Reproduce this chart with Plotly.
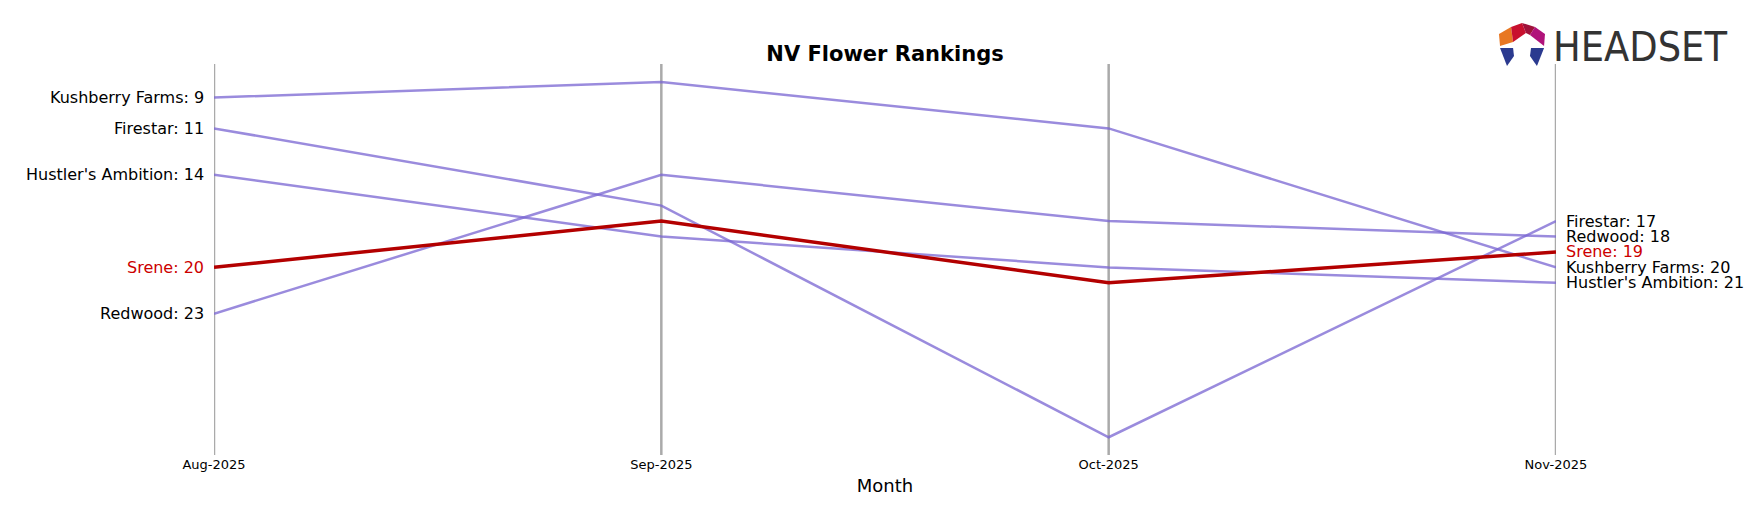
import plotly.graph_objects as go

months = ["Aug-2025", "Sep-2025", "Oct-2025", "Nov-2025"]
brands = ["Kushberry Farms", "Firestar", "Hustler's Ambition", "Redwood", "Srene"]
ranks = {
    "Kushberry Farms": [9, 8, 11, 20],
    "Firestar": [11, 16, 31, 17],
    "Hustler's Ambition": [14, 18, 20, 21],
    "Redwood": [23, 14, 17, 18],
    "Srene": [20, 17, 21, 19],
}
highlight = "Srene"

W, H = 1754, 507
L, R, T, B = 206, 206, 56, 60

fig = go.Figure()
for m in months:
    fig.add_vline(x=m, line=dict(color="#aaaaaa", width=2.5), layer="below")

for b in brands:
    hl = b == highlight
    fig.add_trace(go.Scatter(
        x=months, y=ranks[b], mode="lines", name=b,
        line=dict(color="#b30000" if hl else "rgba(120,100,210,0.75)", width=3.5 if hl else 2.5),
    ))
    c = "#cc0000" if hl else "black"
    fig.add_annotation(x=months[0], y=ranks[b][0], text=f"{b}: {ranks[b][0]}", xanchor="right",
                       xshift=-8, showarrow=False, font=dict(size=16, color=c))
    fig.add_annotation(x=months[-1], y=ranks[b][-1], text=f"{b}: {ranks[b][-1]}", xanchor="left",
                       xshift=8, showarrow=False, font=dict(size=16, color=c))


def px(x, y):
    return (x - L) / (W - L - R), 1 - (y - T) / (H - T - B)


def path(pts):
    s = ""
    for i, (x, y) in enumerate(pts):
        a, b2 = px(x, y)
        s += ("M " if i == 0 else " L ") + f"{a:.4f} {b2:.4f}"
    return s + " Z"


# logo mark
for pts, col in [([(1491, 26), (1503, 19), (1505, 34), (1492, 38)], "#e87722"),
                 ([(1503, 19), (1514, 15), (1518, 25), (1505, 34)], "#c8102e"),
                 ([(1514, 15), (1527, 19), (1522, 27), (1518, 25)], "#a0123a"),
                 ([(1527, 19), (1537, 26), (1536, 38), (1522, 27)], "#b0127a"),
                 ([(1492, 40), (1505, 40), (1506, 48), (1499, 58)], "#2b3a8f"),
                 ([(1536, 40), (1523, 40), (1522, 48), (1529, 58)], "#2b3a8f")]:
    fig.add_shape(type="path", xref="paper", yref="paper", path=path(pts), fillcolor=col,
                  line_width=0)
fig.add_annotation(xref="paper", yref="paper", x=px(1543, 0)[0], y=px(0, 39)[1], text="HEADSET",
                   xanchor="left", yanchor="middle", showarrow=False,
                   font=dict(size=41, color="#333333", family="DejaVu Sans Condensed"))

fig.update_layout(
    width=W, height=H, plot_bgcolor="white", paper_bgcolor="white",
    margin=dict(l=L, r=R, t=T, b=B), showlegend=False,
    font=dict(family="DejaVu Sans", color="black"),
    title=dict(text="<b>NV Flower Rankings</b>", x=0.5, y=0.925, xanchor="center", font=dict(size=21)),
)
fig.update_xaxes(showgrid=False, showline=False, zeroline=False,
                 tickfont=dict(size=13), title=dict(text="Month", font=dict(size=18), standoff=8),
                 range=[0, 3])
fig.update_yaxes(range=[32.15, 6.83], showticklabels=False, showgrid=False, zeroline=False)
fig.write_html("out.html")
